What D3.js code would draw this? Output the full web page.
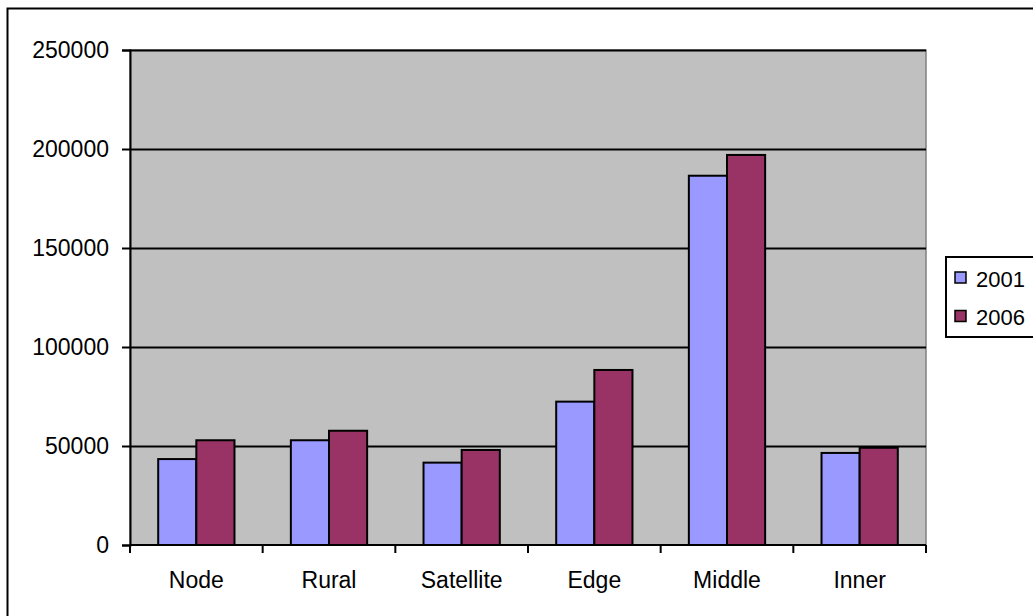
<!DOCTYPE html>
<html>
<head>
<meta charset="utf-8">
<script src="https://cdn.jsdelivr.net/npm/d3@7"></script>
<style>
  body { margin: 0; background: #fff; }
  svg text { font-family: "Liberation Sans", Arial, sans-serif; fill: #000; }
</style>
</head>
<body>
<div id="chart"></div>
<script>
var categories = ["Node", "Rural", "Satellite", "Edge", "Middle", "Inner"];
var seriesNames = ["2001", "2006"];
var values2001 = [43400, 52900, 41600, 72400, 186500, 46500];
var values2006 = [52900, 57700, 48000, 88400, 197000, 49100];
var yTicks = [0, 50000, 100000, 150000, 200000, 250000];
var colors = ["#9999FF", "#993366"];

var W = 1033, H = 616;
var plot = {left: 130, top: 50, right: 926, bottom: 545};

var svg = d3.select("#chart")
  .append("svg")
    .attr("width", W)
    .attr("height", H);

// outer chart border (runs off the right and bottom edge)
svg.append("rect")
  .attr("x", 7.5).attr("y", 8.5)
  .attr("width", W + 10).attr("height", H + 10)
  .attr("fill", "#fff")
  .attr("stroke", "#000")
  .attr("stroke-width", 2);

var x = d3.scaleBand()
  .domain(categories)
  .range([plot.left, plot.right])
  .paddingInner(0.425)
  .paddingOuter(0.2125);

var xs = d3.scaleBand()
  .domain(seriesNames)
  .range([0, x.bandwidth()]);

var y = d3.scaleLinear()
  .domain([0, 250000])
  .range([plot.bottom, plot.top]);

// plot background
svg.append("rect")
  .attr("x", plot.left).attr("y", plot.top)
  .attr("width", plot.right - plot.left)
  .attr("height", plot.bottom - plot.top)
  .attr("fill", "#C0C0C0")
  .attr("stroke", "#808080")
  .attr("stroke-width", 1.5);

// gridlines
svg.append("g")
  .attr("transform", "translate(" + plot.left + ",0)")
  .call(d3.axisLeft(y).tickValues(yTicks.slice(1)).tickSize(-(plot.right - plot.left)).tickFormat(""))
  .call(function (g) {
    g.select(".domain").remove();
    g.selectAll("line").attr("stroke", "#000").attr("stroke-width", 2);
  });

// bars
var rows = categories.map(function (c, i) {
  return {cat: c, vals: [values2001[i], values2006[i]]};
});

svg.append("g")
  .selectAll("g")
  .data(rows)
  .enter()
  .append("g")
    .attr("transform", function (d) { return "translate(" + x(d.cat) + ",0)"; })
  .selectAll("rect")
  .data(function (d) { return d.vals.map(function (v, j) { return {s: seriesNames[j], v: v, j: j}; }); })
  .enter()
  .append("rect")
    .attr("x", function (d) { return xs(d.s); })
    .attr("y", function (d) { return y(d.v); })
    .attr("width", xs.bandwidth())
    .attr("height", function (d) { return y(0) - y(d.v); })
    .attr("fill", function (d) { return colors[d.j]; })
    .attr("stroke", "#000")
    .attr("stroke-width", 2);

// y axis
svg.append("g")
  .attr("transform", "translate(" + plot.left + ",0)")
  .call(d3.axisLeft(y).tickValues(yTicks).tickSize(8).tickPadding(13).tickFormat(function (d) { return d; }))
  .call(function (g) {
    g.select(".domain").attr("stroke", "#000").attr("stroke-width", 2);
    g.selectAll("line").attr("stroke", "#000").attr("stroke-width", 2);
    g.selectAll("text").attr("font-size", 23).attr("font-family", "Liberation Sans, Arial, sans-serif");
  });

// x axis line + category boundary ticks
var bounds = d3.range(categories.length + 1).map(function (i) { return plot.left + i * x.step(); });
svg.append("line")
  .attr("x1", plot.left).attr("x2", plot.right)
  .attr("y1", plot.bottom).attr("y2", plot.bottom)
  .attr("stroke", "#000").attr("stroke-width", 2);
svg.append("g")
  .selectAll("line")
  .data(bounds)
  .enter()
  .append("line")
    .attr("x1", function (d) { return d; }).attr("x2", function (d) { return d; })
    .attr("y1", plot.bottom).attr("y2", plot.bottom + 8)
    .attr("stroke", "#000").attr("stroke-width", 2);

svg.append("g")
  .selectAll("text")
  .data(categories)
  .enter()
  .append("text")
    .attr("x", function (d) { return x(d) + x.bandwidth() / 2; })
    .attr("y", 588)
    .attr("text-anchor", "middle")
    .attr("font-size", 23)
    .text(function (d) { return d; });

// legend
var legend = svg.append("g");
legend.append("rect")
  .attr("x", 946).attr("y", 257)
  .attr("width", 120).attr("height", 80)
  .attr("fill", "#fff")
  .attr("stroke", "#000")
  .attr("stroke-width", 2);

var items = legend.selectAll("g.item")
  .data(seriesNames)
  .enter()
  .append("g")
    .attr("class", "item")
    .attr("transform", function (d, i) { return "translate(955," + (272 + i * 38.5) + ")"; });

items.append("rect")
  .attr("width", 11).attr("height", 11)
  .attr("fill", function (d, i) { return colors[i]; })
  .attr("stroke", "#000")
  .attr("stroke-width", 1.5);

items.append("text")
  .attr("x", 21)
  .attr("y", 14.5)
  .attr("font-size", 22)
  .text(function (d) { return d; });
</script>
</body>
</html>
